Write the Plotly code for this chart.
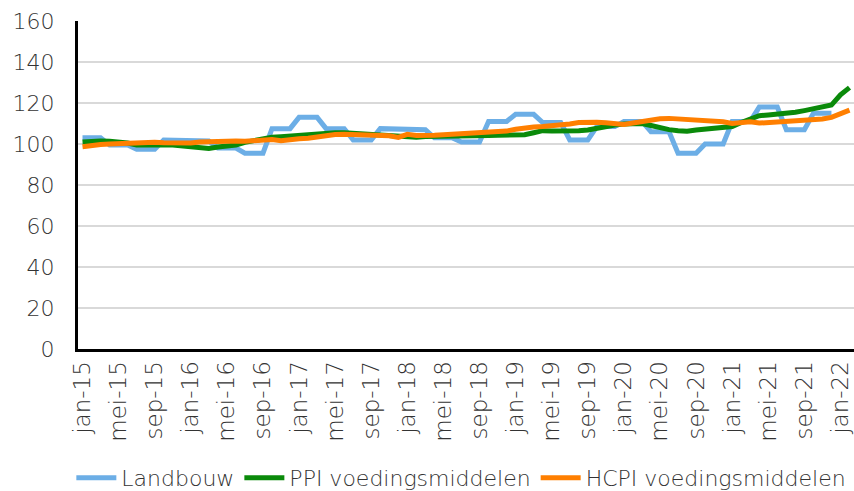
import plotly.graph_objects as go

nl_months = ["jan", "feb", "mrt", "apr", "mei", "jun", "jul", "aug", "sep", "okt", "nov", "dec"]
months = [f"{nl_months[i % 12]}-{15 + i // 12}" for i in range(86)]

landbouw_q = [103, 99.5, 97.5, 102,
              101.5, 98, 95.5, 107.5,
              113, 107.5, 102, 107.5,
              107, 103, 101, 111,
              114.5, 110.5, 102, 108.5,
              111, 106, 95.5, 100,
              111, 118, 107, 115]
landbouw = [v for v in landbouw_q for _ in range(3)] + [None, None]

ppi = [101, 101.5, 101.5, 101.3, 101, 100.5, 99.5, 99.3, 99.3, 99.5, 99.5, 99,
       98.5, 98, 97.8, 98.5, 98.8, 99.5, 100.8, 101.8, 102.8, 103.3, 103.6, 104,
       104, 104.6, 105, 105.3, 105.5, 105.5, 105.2, 105, 104.7, 104.5, 104.3, 104,
       103.3, 103.3, 103.6, 103.6, 103.6, 103.6, 103.8, 104, 104, 104.2, 104.3, 104.4,
       104.4, 104.5, 105.5, 106.5, 106.4, 106.3, 106.3, 106.5, 106.8, 107.8, 108.8, 109.3,
       109.8, 110, 110, 109, 107.8, 107, 106.5, 106.2, 106.8, 107.3, 107.8, 108,
       108.5, 110.5, 112, 113.8, 114.2, 114.5, 115, 115.5, 116.3, 117, 117.8, 119,
       124, 127.5]

hcpi = [98.7, 99.5, 99.8, 100, 100.2, 100.3, 100.8, 101, 100.8, 100.6, 100.6, 100.3,
        100.5, 101, 101.2, 101.5, 101.6, 101.5, 101.3, 101.5, 101.8, 102.2, 101.6, 102.4,
        102.6, 102.8, 103.5, 104.2, 104.6, 104.7, 104.6, 104.5, 104.4, 104.2, 104, 103.2,
        104.7, 104.2, 104, 104.3, 104.5, 104.7, 104.9, 105, 105.2, 105.6, 106, 106.3,
        107.2, 108, 108.3, 108.5, 108.8, 109, 109.8, 110.5, 110.8, 110.6, 110.4, 110,
        109.5, 110.2, 111, 111.8, 112.3, 112.5, 112.3, 112, 111.8, 111.7, 111.4, 110.8,
        110, 110.3, 110.8, 110.2, 110.5, 110.8, 111.2, 111.3, 111.4, 111.7, 112.2, 113,
        114.5, 116.5]

y_ticks = [0, 20, 40, 60, 80, 100, 120, 140, 160]
x_tick_labels = months[::4]

fig = go.Figure()
fig.add_trace(go.Scatter(x=months, y=landbouw, mode="lines", name="Landbouw",
                         line=dict(color="#6CAEE6", width=5)))
fig.add_trace(go.Scatter(x=months, y=ppi, mode="lines", name="PPI voedingsmiddelen",
                         line=dict(color="#0A8A0A", width=5)))
fig.add_trace(go.Scatter(x=months, y=hcpi, mode="lines", name="HCPI voedingsmiddelen",
                         line=dict(color="#FF7F00", width=5)))

font_fam = "'DejaVu Sans', sans-serif"
txt = "#333333"
fig.update_layout(
    width=854, height=491,
    margin=dict(l=78, r=0, t=21, b=142, autoexpand=False),
    paper_bgcolor="white", plot_bgcolor="white",
    font=dict(family=font_fam, size=21, color=txt, weight=200),
    showlegend=True,
    legend=dict(orientation="h", x=0.494, xanchor="center", y=-0.393, yanchor="middle",
                font=dict(family=font_fam, size=22, color=txt, weight=200),
                itemwidth=40, tracegroupgap=0, bgcolor="rgba(0,0,0,0)"),
)
fig.update_xaxes(
    type="category", categoryorder="array", categoryarray=months,
    range=[-0.5, 85.5], automargin=False,
    tickmode="array", tickvals=x_tick_labels, ticktext=x_tick_labels,
    tickangle=-90, showgrid=False,
    showline=True, linecolor="black", linewidth=3,
    ticks="", tickfont=dict(family=font_fam, size=23, color=txt, weight=200),
)
fig.update_yaxes(
    range=[0, 160], tickvals=y_ticks, automargin=False,
    showgrid=True, gridcolor="#D9D9D9", gridwidth=2,
    showline=True, linecolor="black", linewidth=3,
    zeroline=False, ticks="", ticklabelstandoff=16,
    tickfont=dict(family=font_fam, size=22, color=txt, weight=200),
)

fig.write_html("out.html", config={"displayModeBar": False},
               post_script="document.body.style.margin='0';")
